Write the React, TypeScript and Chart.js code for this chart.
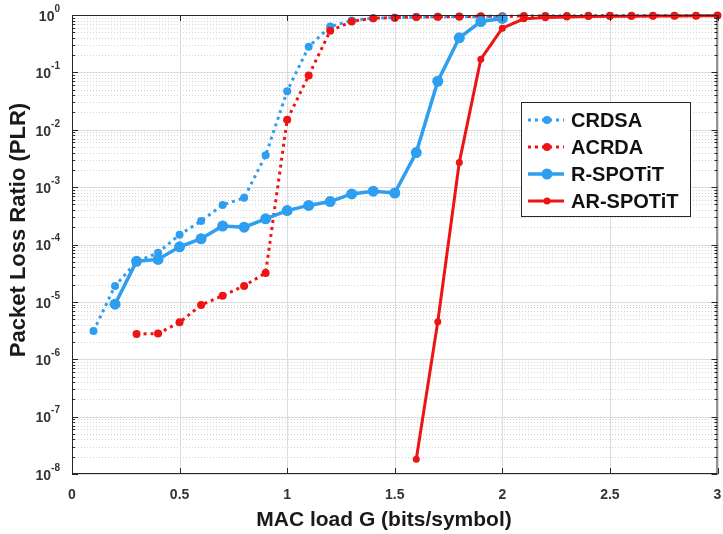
import React, { useEffect, useRef } from "react";
import { Chart, registerables } from "chart.js";

Chart.register(...registerables);

// ---------- data ----------
const G_CRDSA = [0.1, 0.2, 0.3, 0.4, 0.5, 0.6, 0.7, 0.8, 0.9, 1.0, 1.1, 1.2, 1.3, 1.4, 1.5, 1.6, 1.7, 1.8, 1.9, 2.0];
const PLR_CRDSA = [3.1e-6, 1.9e-5, 5.0e-5, 7.2e-5, 1.48e-4, 2.56e-4, 4.9e-4, 6.5e-4, 3.6e-3, 0.047, 0.28, 0.63, 0.8, 0.88, 0.9, 0.92, 0.93, 0.93, 0.93, 0.93];

const G_ACRDA = [0.3, 0.4, 0.5, 0.6, 0.7, 0.8, 0.9, 1.0, 1.1, 1.2, 1.3, 1.4, 1.5, 1.6, 1.7, 1.8, 1.9, 2.0, 2.1, 2.2, 2.3, 2.4, 2.5, 2.6, 2.7, 2.8, 2.9, 3.0];
const PLR_ACRDA = [2.75e-6, 2.8e-6, 4.4e-6, 8.8e-6, 1.28e-5, 1.9e-5, 3.2e-5, 0.015, 0.088, 0.53, 0.77, 0.88, 0.9, 0.92, 0.93, 0.94, 0.95, 0.95, 0.96, 0.96, 0.96, 0.97, 0.97, 0.97, 0.97, 0.97, 0.97, 0.98];

const G_RSPOTIT = [0.2, 0.3, 0.4, 0.5, 0.6, 0.7, 0.8, 0.9, 1.0, 1.1, 1.2, 1.3, 1.4, 1.5, 1.6, 1.7, 1.8, 1.9, 2.0];
const PLR_RSPOTIT = [9.1e-6, 5.1e-5, 5.5e-5, 9.1e-5, 1.26e-4, 2.1e-4, 2.0e-4, 2.8e-4, 3.9e-4, 4.8e-4, 5.6e-4, 7.6e-4, 8.5e-4, 7.9e-4, 4.0e-3, 0.07, 0.4, 0.77, 0.87];

const G_ARSPOTIT = [1.6, 1.7, 1.8, 1.9, 2.0, 2.1, 2.2, 2.3, 2.4, 2.5, 2.6, 2.7, 2.8, 2.9, 3.0];
const PLR_ARSPOTIT = [1.8e-8, 4.5e-6, 2.7e-3, 0.17, 0.59, 0.86, 0.9, 0.92, 0.94, 0.95, 0.95, 0.96, 0.96, 0.97, 0.97];

const SERIES_NAMES = ["CRDSA", "ACRDA", "R-SPOTiT", "AR-SPOTiT"];

const X_TICKS = [0, 0.5, 1, 1.5, 2, 2.5, 3];
const X_TICK_LABELS = ["0", "0.5", "1", "1.5", "2", "2.5", "3"];
const Y_TICK_EXPONENTS = [0, -1, -2, -3, -4, -5, -6, -7, -8];
const Y_MINOR_MULTIPLIERS = [2, 3, 4, 5, 6, 7, 8, 9];

const X_TITLE = "MAC load G (bits/symbol)";
const Y_TITLE = "Packet Loss Ratio (PLR)";

// ---------- styles ----------
const BLUE = "#2e9ef0";
const RED = "#ee1414";
const AXIS = "#262626";
const FONT = '"Liberation Sans", Arial, sans-serif';

const toPoints = (xs: number[], ys: number[]) => xs.map((x, i) => ({ x, y: ys[i] }));

const overlayPlugin = {
  id: "matlabOverlay",
  beforeDatasetsDraw(chart: any) {
    const { ctx, chartArea: a, scales } = chart;
    const xs = scales.x;
    const ys = scales.y;
    ctx.save();
    ctx.lineWidth = 1;
    // minor horizontal grid (dotted)
    ctx.strokeStyle = "#d4d4d4";
    ctx.setLineDash([1, 2]);
    for (const e of Y_TICK_EXPONENTS) {
      if (e === 0) continue;
      for (const m of Y_MINOR_MULTIPLIERS) {
        const py = Math.round(ys.getPixelForValue(m * Math.pow(10, e))) + 0.5;
        ctx.beginPath();
        ctx.moveTo(a.left, py);
        ctx.lineTo(a.right, py);
        ctx.stroke();
      }
    }
    // major grid
    ctx.setLineDash([]);
    ctx.strokeStyle = "#dcdcdc";
    for (const e of Y_TICK_EXPONENTS) {
      const py = Math.round(ys.getPixelForValue(Math.pow(10, e))) + 0.5;
      ctx.beginPath();
      ctx.moveTo(a.left, py);
      ctx.lineTo(a.right, py);
      ctx.stroke();
    }
    for (const t of X_TICKS) {
      const px = Math.round(xs.getPixelForValue(t)) + 0.5;
      ctx.beginPath();
      ctx.moveTo(px, a.top);
      ctx.lineTo(px, a.bottom);
      ctx.stroke();
    }
    ctx.restore();
  },
  afterDraw(chart: any) {
    const { ctx, chartArea: a, scales } = chart;
    const xs = scales.x;
    const ys = scales.y;
    ctx.save();
    // frame
    ctx.strokeStyle = AXIS;
    ctx.lineWidth = 1;
    ctx.strokeRect(a.left + 0.5, a.top + 0.5, a.right - a.left - 1, a.bottom - a.top - 1);
    // ticks
    ctx.beginPath();
    for (const e of Y_TICK_EXPONENTS) {
      const py = Math.round(ys.getPixelForValue(Math.pow(10, e))) + 0.5;
      ctx.moveTo(a.left, py); ctx.lineTo(a.left + 6, py);
      ctx.moveTo(a.right, py); ctx.lineTo(a.right - 6, py);
      if (e === 0) continue;
      for (const m of Y_MINOR_MULTIPLIERS) {
        const my = Math.round(ys.getPixelForValue(m * Math.pow(10, e))) + 0.5;
        ctx.moveTo(a.left, my); ctx.lineTo(a.left + 3, my);
        ctx.moveTo(a.right, my); ctx.lineTo(a.right - 3, my);
      }
    }
    for (const t of X_TICKS) {
      const px = Math.round(xs.getPixelForValue(t)) + 0.5;
      ctx.moveTo(px, a.bottom); ctx.lineTo(px, a.bottom - 6);
      ctx.moveTo(px, a.top); ctx.lineTo(px, a.top + 6);
    }
    ctx.stroke();

    // y tick labels 10^e
    ctx.fillStyle = "#333333";
    ctx.textBaseline = "middle";
    for (const e of Y_TICK_EXPONENTS) {
      const py = ys.getPixelForValue(Math.pow(10, e));
      const sup = String(e);
      ctx.font = `bold 10px ${FONT}`;
      const sw = ctx.measureText(sup).width;
      ctx.textAlign = "left";
      const right = a.left - 12;
      ctx.fillText(sup, right - sw, py - 6);
      ctx.font = `bold 14px ${FONT}`;
      ctx.textAlign = "right";
      ctx.fillText("10", right - sw, py + 2);
    }
    // x tick labels
    ctx.font = `bold 14px ${FONT}`;
    ctx.textAlign = "center";
    X_TICKS.forEach((t, i) => {
      ctx.fillText(X_TICK_LABELS[i], xs.getPixelForValue(t), a.bottom + 21);
    });
    // titles
    ctx.fillStyle = "#1a1a1a";
    ctx.font = `bold 21px ${FONT}`;
    ctx.fillText(X_TITLE, 384, a.bottom + 46);
    ctx.save();
    ctx.translate(19, 230);
    ctx.rotate(-Math.PI / 2);
    ctx.font = `bold 22px ${FONT}`;
    ctx.fillText(Y_TITLE, 0, 0);
    ctx.restore();

    // legend
    const bx = 521, by = 102, bw = 169, bh = 114;
    ctx.fillStyle = "#ffffff";
    ctx.fillRect(bx, by, bw, bh);
    ctx.strokeStyle = AXIS;
    ctx.lineWidth = 1;
    ctx.strokeRect(bx + 0.5, by + 0.5, bw, bh);
    const rows = [120, 147, 174, 201];
    chart.data.datasets.forEach((ds: any, i: number) => {
      const ry = rows[i];
      ctx.save();
      ctx.strokeStyle = ds.borderColor;
      ctx.lineWidth = ds.borderWidth;
      ctx.setLineDash(ds.borderDash || []);
      ctx.beginPath();
      ctx.moveTo(528, ry);
      ctx.lineTo(564, ry);
      ctx.stroke();
      ctx.setLineDash([]);
      ctx.fillStyle = ds.pointBackgroundColor;
      ctx.beginPath();
      ctx.arc(547, ry, ds.pointRadius, 0, Math.PI * 2);
      ctx.fill();
      ctx.restore();
      ctx.fillStyle = "#111111";
      ctx.font = `bold 20px ${FONT}`;
      ctx.textAlign = "left";
      ctx.textBaseline = "middle";
      ctx.fillText(ds.label, 571, ry + 1);
    });
    ctx.restore();
  },
};

export default function App() {
  const canvasRef = useRef<HTMLCanvasElement | null>(null);

  useEffect(() => {
    const canvas = canvasRef.current;
    if (!canvas) return;
    const chart = new Chart(canvas, {
      type: "line",
      data: {
        datasets: [
          {
            label: SERIES_NAMES[0],
            data: toPoints(G_CRDSA, PLR_CRDSA),
            borderColor: BLUE,
            backgroundColor: BLUE,
            pointBackgroundColor: BLUE,
            borderWidth: 3,
            borderDash: [3, 4],
            pointRadius: 4,
            pointBorderWidth: 0,
            order: 3,
            clip: false,
          },
          {
            label: SERIES_NAMES[1],
            data: toPoints(G_ACRDA, PLR_ACRDA),
            borderColor: RED,
            backgroundColor: RED,
            pointBackgroundColor: RED,
            borderWidth: 3,
            borderDash: [3, 4],
            pointRadius: 4,
            pointBorderWidth: 0,
            order: 2,
            clip: false,
          },
          {
            label: SERIES_NAMES[2],
            data: toPoints(G_RSPOTIT, PLR_RSPOTIT),
            borderColor: BLUE,
            backgroundColor: BLUE,
            pointBackgroundColor: BLUE,
            borderWidth: 3.5,
            pointRadius: 5.5,
            pointBorderWidth: 0,
            order: 1,
            clip: false,
          },
          {
            label: SERIES_NAMES[3],
            data: toPoints(G_ARSPOTIT, PLR_ARSPOTIT),
            borderColor: RED,
            backgroundColor: RED,
            pointBackgroundColor: RED,
            borderWidth: 3,
            pointRadius: 3.5,
            pointBorderWidth: 0,
            order: 0,
            clip: false,
          },
        ],
      },
      options: {
        responsive: false,
        maintainAspectRatio: false,
        devicePixelRatio: 1,
        animation: false,
        layout: { padding: { left: 72, right: 4, top: 15, bottom: 60 } },
        plugins: { legend: { display: false }, tooltip: { enabled: false } },
        elements: { line: { tension: 0, borderCapStyle: "butt" } },
        scales: {
          x: {
            type: "linear",
            min: 0,
            max: 3,
            ticks: { display: false, stepSize: 0.5 },
            grid: { display: false },
            border: { display: false },
            afterFit: (s: any) => { s.height = 0; },
          },
          y: {
            type: "logarithmic",
            min: 1e-8,
            max: 1,
            ticks: { display: false },
            grid: { display: false },
            border: { display: false },
            afterFit: (s: any) => { s.width = 0; },
          },
        },
      },
      plugins: [overlayPlugin],
    } as any);
    return () => chart.destroy();
  }, []);

  return (
    <div style={{ position: "fixed", left: 0, top: 0, width: 723, height: 534, background: "#fff" }}>
      <canvas ref={canvasRef} width={723} height={534} style={{ width: 723, height: 534, display: "block" }} />
    </div>
  );
}
